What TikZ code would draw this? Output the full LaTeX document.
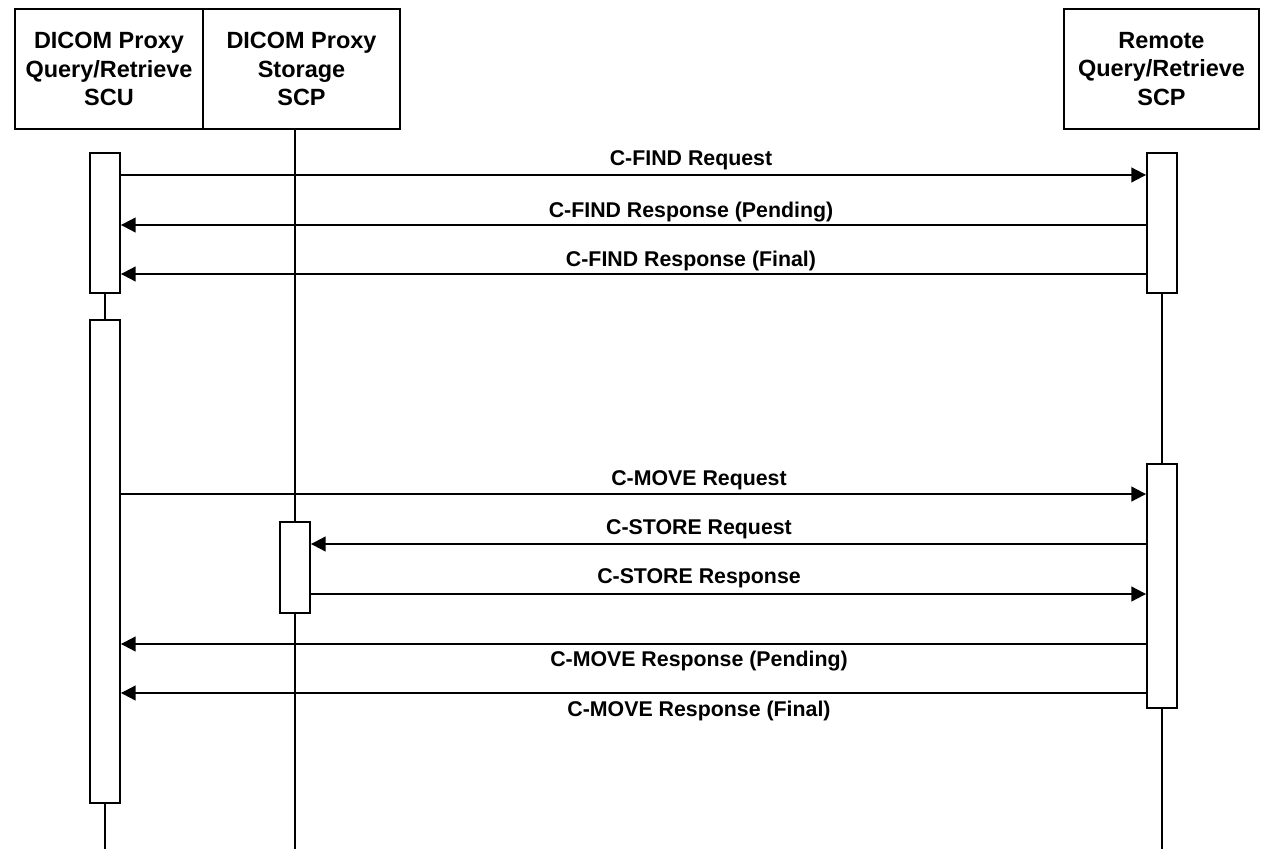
\documentclass[tikz,border=0pt]{standalone}
\usepackage{fontspec}
\setmainfont{Liberation Sans}
\usetikzlibrary{arrows.meta}
\tikzset{
  head/.style={draw, line width=1.4pt, minimum height=90pt, inner sep=0pt, align=center,
    font=\fontsize{17.6}{21.4}\selectfont\bfseries},
  bar/.style={draw, fill=white, line width=1.4pt, minimum width=22.5pt, inner sep=0pt},
  life/.style={line width=1.5pt},
  msg/.style={line width=1.5pt, -{Triangle[length=11pt,width=11pt]}},
  lbl/.style={anchor=base, inner sep=0pt, font=\fontsize{16}{19}\selectfont\bfseries},
}
\begin{document}
\begin{tikzpicture}[x=0.75pt, y=-0.75pt]
\useasboundingbox (0,0) rectangle (1261,849);
% headers
\node[head, minimum width=141pt] (h1) at (109,69) {DICOM Proxy\\Query/Retrieve\\SCU};
\node[head, minimum width=147.75pt] (h2) at (301.5,69) {DICOM Proxy\\Storage\\SCP};
\node[head, minimum width=146.25pt] (h3) at (1161.5,69) {Remote\\Query/Retrieve\\SCP};
% end points of lifelines
\coordinate (e1) at (105,849);
\coordinate (e2) at (295,849);
\coordinate (e3) at (1162,849);
% activation bars (positions only)
\path (105,223) coordinate (c1a) (105,561.5) coordinate (c1b) (295,567.5) coordinate (c2)
      (1162,223) coordinate (c3a) (1162,586) coordinate (c3b);
% lifelines
\draw[life] (105,223) -- (105,561.5);
\draw[life] (c1b) -- (e1);
\draw[life] (c2 |- h2.south) -- (e2);
\draw[life] (c3a) -- (e3);
% bars
\node[bar, minimum height=105pt] (b1a) at (c1a) {};
\node[bar, minimum height=362.25pt] (b1b) at (c1b) {};
\node[bar, minimum height=68.25pt] (b2) at (c2) {};
\node[bar, minimum height=105pt] (b3a) at (c3a) {};
\node[bar, minimum height=183pt] (b3b) at (c3b) {};
% messages
\draw[msg] (b1a.east |- 0,175) -- (b3a.west |- 0,175);
\node[lbl] (l1) at (691,166) {C-FIND Request};
\draw[msg] (b3a.west |- 0,225) -- (b1a.east |- 0,225);
\node[lbl] (l2) at (691,217) {C-FIND Response (Pending)};
\draw[msg] (b3a.west |- 0,274) -- (b1a.east |- 0,274);
\node[lbl] (l3) at (691,266) {C-FIND Response (Final)};
\draw[msg] (b1b.east |- 0,494) -- (b3b.west |- 0,494);
\node[lbl] (l4) at (699,485) {C-MOVE Request};
\draw[msg] (b3b.west |- 0,544) -- (b2.east |- 0,544);
\node[lbl] (l5) at (699,534) {C-STORE Request};
\draw[msg] (b2.east |- 0,594) -- (b3b.west |- 0,594);
\node[lbl] (l6) at (699,583) {C-STORE Response};
\draw[msg] (b3b.west |- 0,644) -- (b1b.east |- 0,644);
\node[lbl] (l7) at (699,666) {C-MOVE Response (Pending)};
\draw[msg] (b3b.west |- 0,693) -- (b1b.east |- 0,693);
\node[lbl] (l8) at (699,716) {C-MOVE Response (Final)};
\end{tikzpicture}
\end{document}
